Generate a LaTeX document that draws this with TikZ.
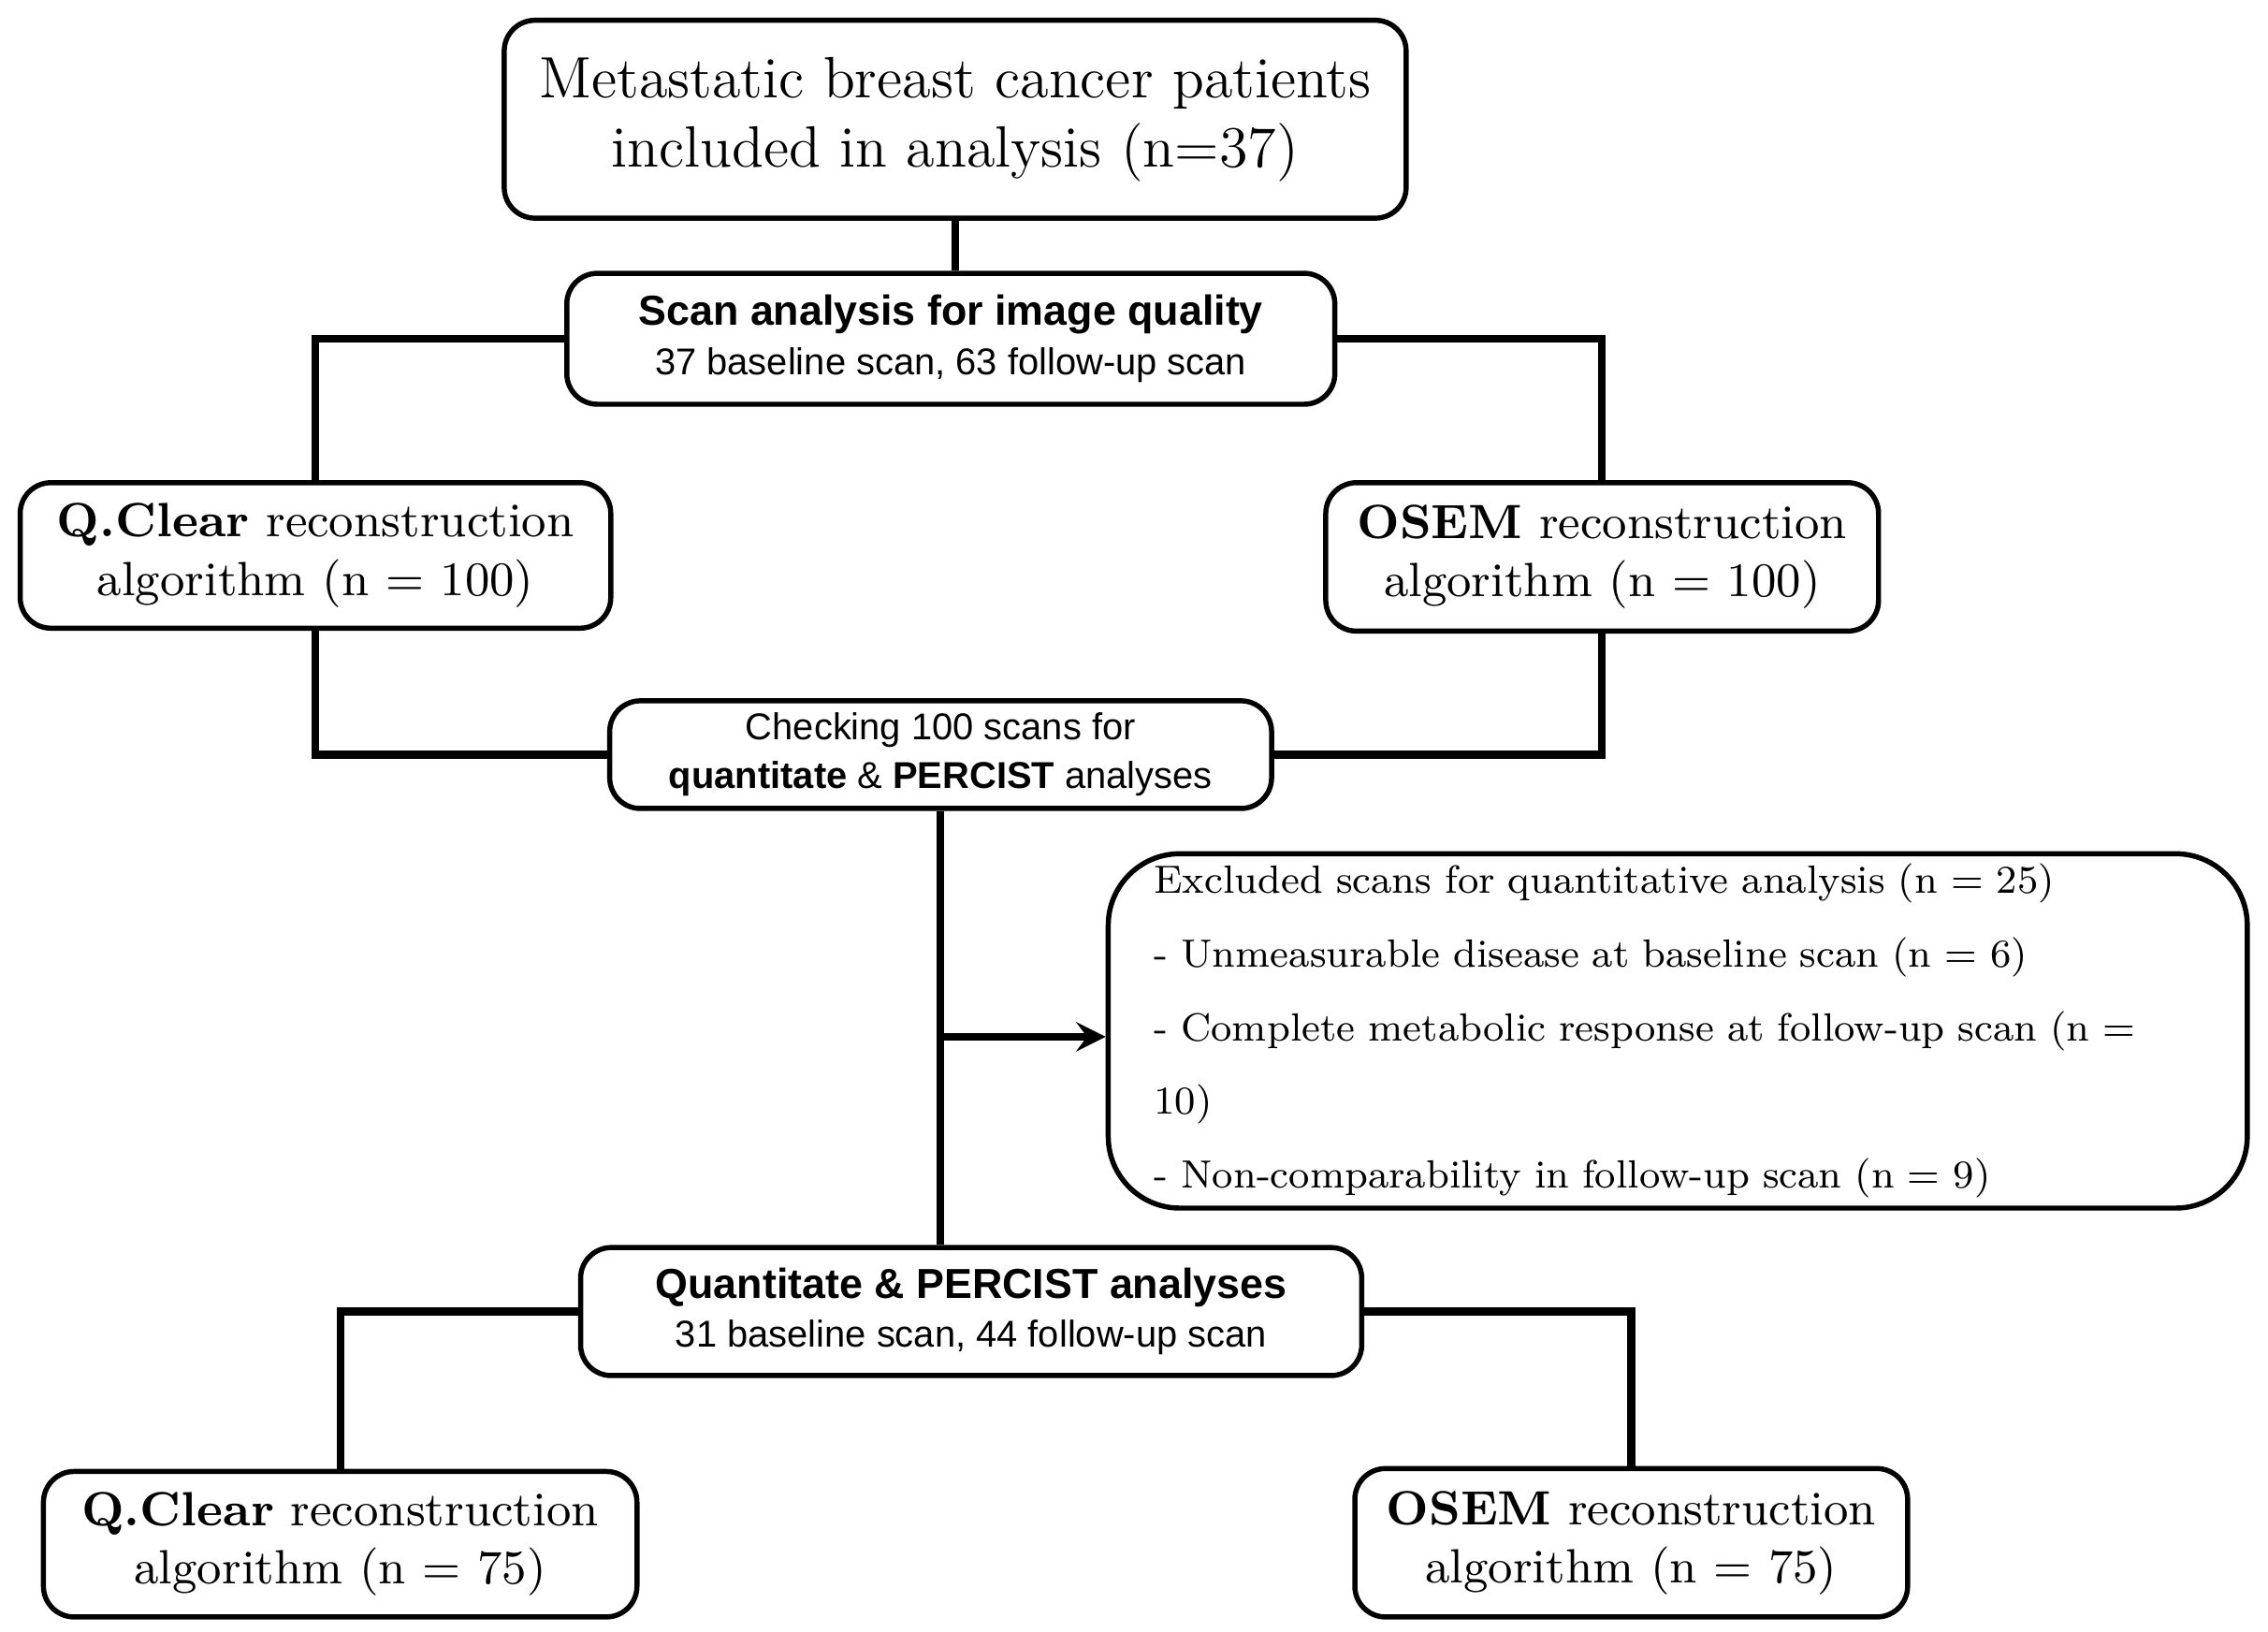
\documentclass[tikz,border=0pt]{standalone}
\usepackage{fontspec}
\newfontfamily\arial{Liberation Sans}
\usetikzlibrary{positioning}
\begin{document}
\begin{tikzpicture}[x=0.01cm,y=-0.01cm,
    box/.style={draw, line width=1pt, rounded corners=6pt, fill=white, align=center, inner sep=2pt},
    serifbox/.style={box, font=\fontsize{9.4}{11.4}\selectfont},
    sansbox/.style={box, font=\arial\fontsize{7.3}{9.6}\selectfont},
    link/.style={line width=1.5pt}]
  \useasboundingbox (0,0) rectangle (1560,1122);

  % boxes
  \node[box, minimum width=6.2cm, minimum height=1.36cm, font=\fontsize{11.4}{13.6}\selectfont] (patients) at (657,82)
    {Metastatic breast cancer patients\\included in analysis (n=37)};
  \node[sansbox, minimum width=5.28cm, minimum height=0.9cm] (scan) at (654,233)
    {\textbf{\fontsize{8.2}{9.6}\selectfont Scan analysis for image quality}\\37 baseline scan, 63 follow-up scan};
  \node[serifbox, minimum width=4.06cm, minimum height=1cm] (qclearA) at (217,382)
    {\textbf{Q.Clear} reconstruction\\algorithm (n = 100)};
  \node[serifbox, minimum width=3.8cm, minimum height=1.02cm] (osemA) at (1102,383)
    {\textbf{OSEM} reconstruction\\algorithm (n = 100)};
  \node[sansbox, minimum width=4.55cm, minimum height=0.74cm] (check) at (647,519)
    {Checking 100 scans for\\\textbf{quantitate} \& \textbf{PERCIST} analyses};
  \node[box, minimum width=7.83cm, minimum height=2.12cm, rounded corners=14pt, align=left,
        text width=7.2cm, inner xsep=0.3cm,
        font=\fontsize{7.7}{14.4}\selectfont] (excluded) at (1154,709)
    {Excluded scans for quantitative analysis (n = 25)\\
     - Unmeasurable disease at baseline scan (n = 6)\\
     - Complete metabolic response at follow-up scan (n = 10)\\
     - Non-comparability in follow-up scan (n = 9)};
  \node[sansbox, minimum width=5.37cm, minimum height=0.88cm] (quant) at (668,902)
    {\textbf{\fontsize{8.2}{9.6}\selectfont Quantitate \& PERCIST analyses}\\31 baseline scan, 44 follow-up scan};
  \node[serifbox, minimum width=4.08cm, minimum height=1cm] (qclearB) at (234,1062)
    {\textbf{Q.Clear} reconstruction\\algorithm (n = 75)};
  \node[serifbox, minimum width=3.8cm, minimum height=1.02cm] (osemB) at (1122,1061)
    {\textbf{OSEM} reconstruction\\algorithm (n = 75)};

  % connectors
  \coordinate (split) at (647,713);
  \draw[link] (patients.south) -- (scan.north -| patients.south);
  \draw[link] (scan.west) -| (qclearA.north);
  \draw[link] (scan.east) -| (osemA.north);
  \draw[link] (qclearA.south) |- (check.west);
  \draw[link] (osemA.south) |- (check.east);
  \draw[link] (check.south) -- (quant.north -| check.south);
  \draw[link, -stealth] (split) -- (split -| excluded.west);
  \draw[link] (quant.west) -| (qclearB.north);
  \draw[link] (quant.east) -| (osemB.north);
\end{tikzpicture}
\end{document}
